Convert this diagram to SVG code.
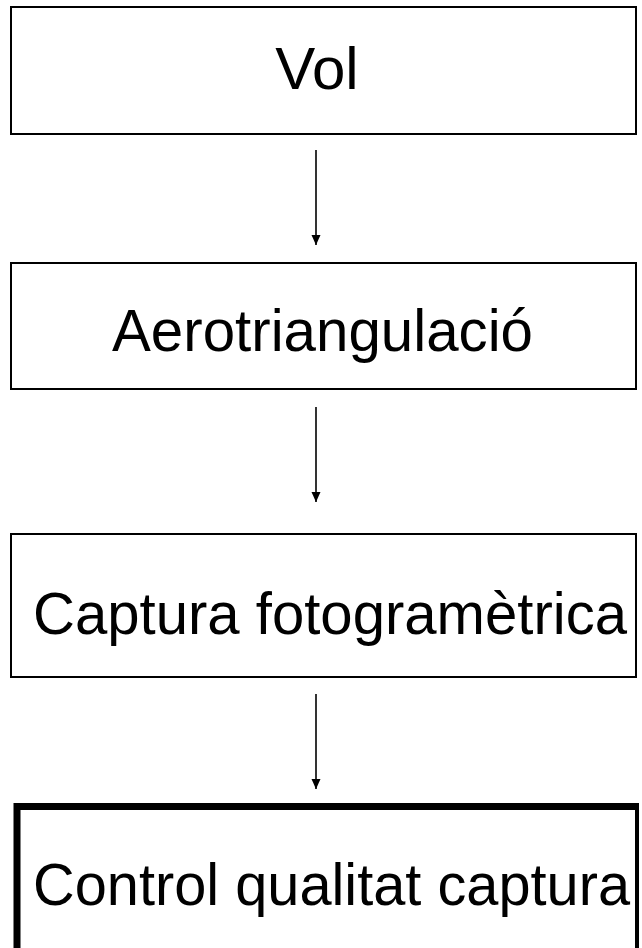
<svg xmlns="http://www.w3.org/2000/svg" width="642" height="948" viewBox="0 0 642 948">
<style>
.box{fill:#fff;stroke:#000;stroke-width:2}
.lbl{font-family:"Liberation Sans",Arial,sans-serif;font-size:60px;fill:#000}
.conn{stroke:#000;stroke-width:1.6;fill:none}
</style>
<defs>
<marker id="ah" markerWidth="10" markerHeight="11" refX="10" refY="5" orient="auto" markerUnits="userSpaceOnUse" viewBox="0 0 10 10">
<path d="M0,0.5 L10,5 L0,9.5 Z" fill="#000"/>
</marker>
</defs>
<rect width="642" height="948" fill="#fff"/>
<g id="connectors">
<line class="conn" x1="316" y1="150" x2="316" y2="245" marker-end="url(#ah)"/>
<line class="conn" x1="316" y1="407" x2="316" y2="502" marker-end="url(#ah)"/>
<line class="conn" x1="316" y1="694" x2="316" y2="789" marker-end="url(#ah)"/>
</g>
<g id="vol">
<rect class="box" x="11" y="7" width="625" height="127"/>
<text class="lbl" x="317" y="89" text-anchor="middle">Vol</text>
</g>
<g id="aerotriangulacio">
<rect class="box" x="11" y="263" width="625" height="126"/>
<text class="lbl" x="112" y="351" textLength="421" lengthAdjust="spacingAndGlyphs">Aerotriangulació</text>
</g>
<g id="captura">
<rect class="box" x="11" y="534" width="625" height="143"/>
<text class="lbl" x="33" y="634" textLength="594" lengthAdjust="spacingAndGlyphs">Captura fotogramètrica</text>
</g>
<g id="control">
<path d="M17,960 L17,806.5 L637,806.5" fill="none" stroke="#000" stroke-width="7"/>
<line x1="637" y1="803" x2="637" y2="960" stroke="#000" stroke-width="4"/>
<text class="lbl" x="33" y="905" textLength="597" lengthAdjust="spacingAndGlyphs">Control qualitat captura</text>
</g>
</svg>
